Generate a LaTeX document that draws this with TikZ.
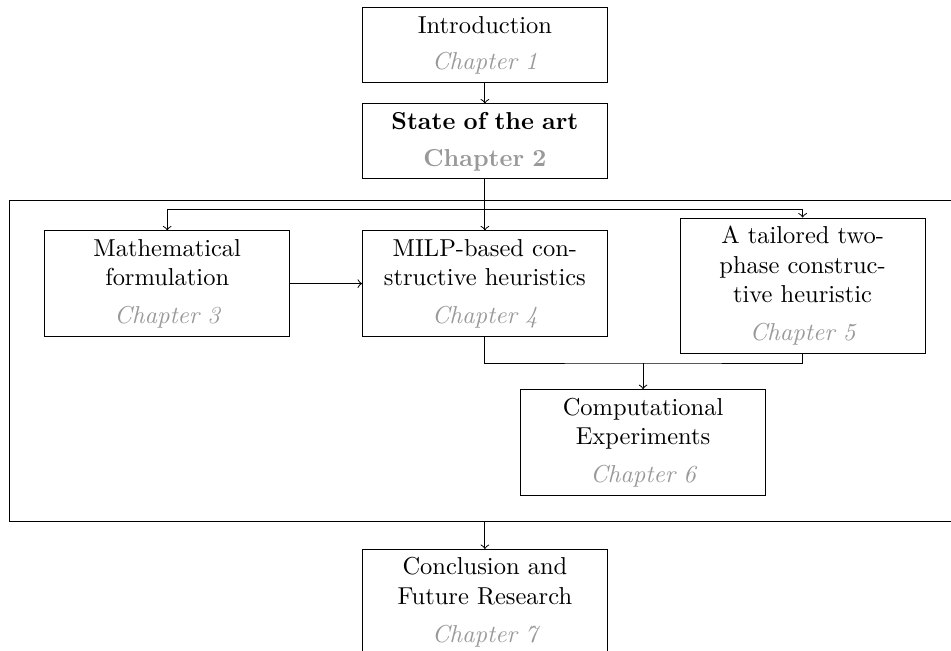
\documentclass[tikz,border=0pt]{standalone}
\usepackage{tikz}
\usepackage{xcolor}
\definecolor{chapgray}{HTML}{999999}
\tikzset{
  chapbox/.style={draw, text width=3.28cm, align=center, inner sep=.333em},
}

\begin{document}
\begin{tikzpicture}
     \useasboundingbox (0cm, 0cm) rectangle (13.65cm, -9.34cm);
     \clip (0cm, 0cm) rectangle (13.65cm, -9.34cm);
     \node[chapbox] (intro) at ( 6.96cm, -0.65cm) {Introduction\\[3pt]{\color{chapgray}\itshape Chapter 1}};
     \node[chapbox] (soa)   at ( 6.96cm, -2.03cm) {\bfseries State of the art\\[3pt]{\color{chapgray} Chapter 2}};
     \node[draw, minimum width=13.66cm, minimum height=4.61cm] (frame) at (6.96cm, -5.185cm) {};
     \node[chapbox] (math)  at ( 2.40cm, -4.07cm) {Mathematical formulation\\[3.5pt]{\color{chapgray}\itshape Chapter 3}};
     \node[chapbox] (milp)  at ( 6.96cm, -4.07cm) {MILP-based constructive heuristics\\[3.5pt]{\color{chapgray}\itshape Chapter 4}};
     \node[chapbox] (tail)  at (11.52cm, -4.10cm) {A tailored two-phase constructive heuristic\\[3.5pt]{\color{chapgray}\itshape Chapter 5}};
     \node[chapbox] (comp)  at ( 9.23cm, -6.35cm) {Computational Experiments\\[3.5pt]{\color{chapgray}\itshape Chapter 6}};
     \node[chapbox, anchor=north] (concl) at (6.96cm, -7.88cm) {Conclusion and Future Research\\[3.5pt]{\color{chapgray}\itshape Chapter 7}};
     \coordinate (split) at (soa.south |- 0cm, -3.01cm);
     \coordinate (merge) at (comp.north |- 0cm, -5.21cm);

     \draw[->] (intro) -- (soa);
     \draw (soa.south) -- (split);
     \draw[->] (split) -| (math.north);
     \draw[->] (split) -- (milp.north);
     \draw[->] (split) -| (tail.north);
     \draw[->] (math) -- (milp);
     \draw (milp.south) |- (merge) -| (tail.south);
     \draw[->] (merge) -- (comp.north);
     \draw[->] (frame.south) -- (concl.north);
   \end{tikzpicture}
\end{document}
